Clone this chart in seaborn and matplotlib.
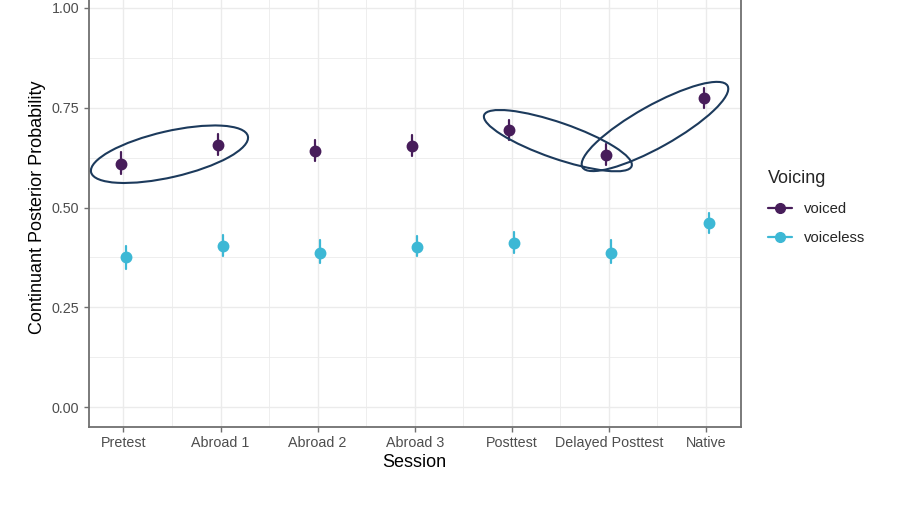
import numpy as np
import pandas as pd
import matplotlib
matplotlib.use("Agg")
import matplotlib.pyplot as plt
from matplotlib.lines import Line2D
from matplotlib.patches import Ellipse
from matplotlib.transforms import IdentityTransform
import seaborn as sns

sessions = ["Pretest", "Abroad 1", "Abroad 2", "Abroad 3", "Posttest", "Delayed Posttest", "Native"]
voicing = ["voiced", "voiceless"]

voiced_mean = [0.610, 0.657, 0.642, 0.655, 0.693, 0.632, 0.774]
voiced_lo   = [0.585, 0.632, 0.617, 0.628, 0.668, 0.606, 0.749]
voiced_hi   = [0.638, 0.685, 0.670, 0.681, 0.720, 0.660, 0.799]

voiceless_mean = [0.375, 0.404, 0.387, 0.401, 0.411, 0.387, 0.460]
voiceless_lo   = [0.347, 0.379, 0.362, 0.379, 0.387, 0.360, 0.435]
voiceless_hi   = [0.403, 0.430, 0.418, 0.429, 0.439, 0.418, 0.485]

y_ticks = [0.00, 0.25, 0.50, 0.75, 1.00]
y_ticklabels = ["0.00", "0.25", "0.50", "0.75", "1.00"]

palette = {"voiced": "#471D5A", "voiceless": "#3DB8D5"}
ellipse_color = "#1C3A5C"

# long table: lower / mean / upper per cell -> median = estimate, 100% interval = range
rows = []
for v, (m, lo, hi) in zip(voicing, [(voiced_mean, voiced_lo, voiced_hi),
                                      (voiceless_mean, voiceless_lo, voiceless_hi)]):
    for s, mm, ll, hh in zip(sessions, m, lo, hi):
        for val in (ll, mm, hh):
            rows.append({"Session": s, "Voicing": v, "prob": val})
df = pd.DataFrame(rows)

sns.set_theme(style="white")
plt.rcParams["font.family"] = ["Liberation Sans", "DejaVu Sans"]

fig = plt.figure(figsize=(9.18, 5.17), dpi=100)
ax = fig.add_axes([88.5 / 918, 90 / 517, (741 - 88.5) / 918, (427 + 12) / 517])

sns.pointplot(data=df, x="Session", y="prob", hue="Voicing", order=sessions,
              hue_order=voicing, palette=palette, estimator="median",
              errorbar=("pi", 100), linestyle="none", dodge=0.052,
              markersize=6.5, err_kws={"linewidth": 1.6}, ax=ax, legend=False)

ax.set_xlim(-0.36, 6.36)
ax.set_ylim(-0.05, 1.05)
ax.set_yticks(y_ticks)
ax.set_yticklabels(y_ticklabels)
ax.set_xticks(range(len(sessions)))
ax.set_xticklabels(sessions)

# grid (major + minor like ggplot theme_bw)
for x in np.arange(-0.5, len(sessions), 0.5):
    ax.axvline(x, color="#EBEBEB", lw=1.0 if x % 1 == 0 else 0.6, zorder=0)
for y in np.arange(0, 1.01, 0.125):
    ax.axhline(y, color="#EBEBEB", lw=1.0 if (y * 4) % 1 == 0 else 0.6, zorder=0)

for sp in ax.spines.values():
    sp.set_color("#707070")
    sp.set_linewidth(1.3)
    sp.set_visible(True)

ax.tick_params(axis="both", which="major", length=3.5, width=1.0, color="#707070",
               labelsize=10.3, labelcolor="#4D4D4D", pad=3, left=True, bottom=True)
ax.set_xlabel("Session", fontsize=13, color="black", labelpad=3)
ax.set_ylabel("Continuant Posterior Probability", fontsize=13, color="black", labelpad=4)

# legend
handles = [Line2D([0], [0], color=palette[v], marker="o", markersize=7, lw=1.6) for v in voicing]
leg = fig.legend(handles, voicing, title="Voicing", loc="upper left",
                 bbox_to_anchor=(755 / 918, 1 - 157 / 517), frameon=False,
                 fontsize=10.7, title_fontsize=13, handlelength=1.6,
                 handletextpad=0.8, labelspacing=1.0)
leg._legend_box.align = "left"

# highlight ellipses (drawn in display space around pairs of estimates)
fig.canvas.draw()

def ring(i, j, pad, minor, extra_angle=0.0, shift_y=0.0):
    p1 = ax.transData.transform((i - 0.026, voiced_mean[i]))
    p2 = ax.transData.transform((j - 0.026, voiced_mean[j]))
    c = (p1 + p2) / 2 + np.array([0.0, shift_y])
    d = p2 - p1
    ang = np.degrees(np.arctan2(d[1], d[0])) + extra_angle
    length = np.hypot(*d) + 2 * pad
    e = Ellipse(c, length, 2 * minor, angle=ang, transform=IdentityTransform(),
                fill=False, edgecolor=ellipse_color, lw=1.5, zorder=5)
    fig.add_artist(e)

ring(0, 1, 31, 23, 2.0)
ring(4, 5, 28, 18, -5.0, 2.0)
ring(5, 6, 27, 21, -1.0)

fig.savefig("out.png", dpi=100)
